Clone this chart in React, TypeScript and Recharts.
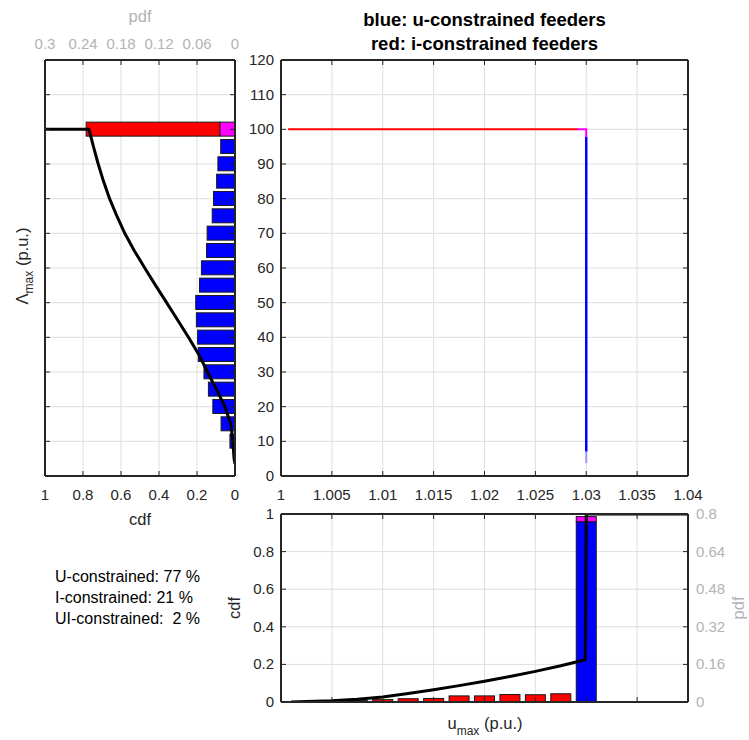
import { ComposedChart, Bar, Line, XAxis, YAxis, CartesianGrid } from "recharts";

const FONT = '"Liberation Sans", Arial, Helvetica, sans-serif';
const AX = "#262626";
const GRID = "#dfdfdf";
const GREY = "#b3b3b3";
const EDGE = "#1a1a1a";
const TICK_LEN = 5;
const FS = 15;

// tick labels
const uTicks = [1, 1.005, 1.01, 1.015, 1.02, 1.025, 1.03, 1.035, 1.04];
const lamTicks = [0, 10, 20, 30, 40, 50, 60, 70, 80, 90, 100, 110, 120];
const cdfTicks = [0, 0.2, 0.4, 0.6, 0.8, 1];
const pdfLamTicks = [0, 0.06, 0.12, 0.18, 0.24, 0.3];
const pdfUTicks = [0, 0.16, 0.32, 0.48, 0.64, 0.8];

// histogram of Lambda_max (left panel), pdf per bin
const lamBins = [100, 95, 90, 85, 80, 75, 70, 65, 60, 55, 50, 45, 40, 35, 30, 25, 20, 15, 10];
const lamBlue = [0, 0.0226, 0.027, 0.029, 0.034, 0.036, 0.044, 0.045, 0.053, 0.056, 0.062, 0.061, 0.059, 0.058, 0.049, 0.042, 0.035, 0.022, 0.008];
const lamMagenta = [0.024, 0, 0, 0, 0, 0, 0, 0, 0, 0, 0, 0, 0, 0, 0, 0, 0, 0, 0];
const lamRed = [0.211, 0, 0, 0, 0, 0, 0, 0, 0, 0, 0, 0, 0, 0, 0, 0, 0, 0, 0];

// cdf of Lambda_max
const cdfLamX = [3.5, 5, 10, 15, 20, 25, 30, 35, 40, 45, 50, 55, 60, 65, 70, 75, 80, 85, 90, 95, 99.5, 100, 100];
const cdfLamY = [0, 0.005, 0.011, 0.022, 0.053, 0.098, 0.145, 0.19, 0.245, 0.302, 0.36, 0.418, 0.475, 0.53, 0.58, 0.622, 0.66, 0.692, 0.72, 0.745, 0.766, 0.77, 1];

// histogram of u_max (bottom panel)
const uBins = [1.0075, 1.01, 1.0125, 1.015, 1.0175, 1.02, 1.0225, 1.025, 1.0275, 1.03];
const uBlue = [0, 0, 0, 0, 0, 0, 0, 0, 0, 0.767];
const uMagenta = [0, 0, 0, 0, 0, 0, 0, 0, 0, 0.022];
const uRed = [0.006, 0.01, 0.014, 0.015, 0.026, 0.026, 0.032, 0.031, 0.035, 0];

// cdf of u_max
const cdfUX = [1.001, 1.0025, 1.005, 1.0075, 1.01, 1.0125, 1.015, 1.0175, 1.02, 1.0225, 1.025, 1.0275, 1.0299, 1.03, 1.04];
const cdfUY = [0, 0.002, 0.007, 0.015, 0.027, 0.045, 0.065, 0.087, 0.11, 0.136, 0.163, 0.193, 0.225, 1, 1];

// scatter u_max vs Lambda_max
const redU = [1.0007, 1.0292];
const redLam = [100, 100];
const magU = [1.0291, 1.03, 1.03];
const magLam = [100, 100, 97.8];
const blueU = [1.03, 1.03];
const blueLam = [97.8, 7.1];
const blueTailU = [1.03, 1.03];
const blueTailLam = [7.1, 3.7];

const lamHist = lamBins.map((lam, i) => ({ lam, blue: lamBlue[i], magenta: lamMagenta[i], red: lamRed[i] }));
const cdfLam = cdfLamX.map((lam, i) => ({ lam, cdf: cdfLamY[i] }));
const uHist = uBins.map((u, i) => ({ u, blue: uBlue[i], magenta: uMagenta[i], red: uRed[i] }));
const cdfU = cdfUX.map((u, i) => ({ u, cdf: cdfUY[i] }));
const pts = (us: number[], ls: number[]) => us.map((u, i) => ({ u, lam: ls[i] }));

type Side = "bottom" | "top" | "left" | "right";

function makeTick(side: Side, label: boolean, color: string = AX) {
  return (p: any) => {
    const x = Number(p.x);
    const y = Number(p.y);
    const txt = label ? String(p.payload?.value) : "";
    const t = { fill: color, fontSize: FS, fontFamily: FONT };
    if (side === "bottom")
      return (
        <g>
          <line x1={x} x2={x} y1={y} y2={y - TICK_LEN} stroke={AX} />
          {label && <text x={x} y={y + 24} textAnchor="middle" {...t}>{txt}</text>}
        </g>
      );
    if (side === "top")
      return (
        <g>
          <line x1={x} x2={x} y1={y} y2={y + TICK_LEN} stroke={AX} />
          {label && <text x={x} y={y - 11} textAnchor="middle" {...t}>{txt}</text>}
        </g>
      );
    if (side === "left")
      return (
        <g>
          <line x1={x} x2={x + TICK_LEN} y1={y} y2={y} stroke={AX} />
          {label && <text x={x - 7} y={y + 5} textAnchor="end" {...t}>{txt}</text>}
        </g>
      );
    return (
      <g>
        <line x1={x} x2={x - TICK_LEN} y1={y} y2={y} stroke={AX} />
        {label && <text x={x + 8} y={y + 5} textAnchor="start" {...t}>{txt}</text>}
      </g>
    );
  };
}

// bars keep the library's position along both axes, only the thickness is fixed
function hBar(thick: number) {
  return (p: any) => {
    const { x, y, width, height, fill } = p;
    if (!width) return <g />;
    const cy = y + height / 2;
    return <rect x={Math.min(x, x + width)} y={cy - thick / 2} width={Math.abs(width)} height={thick} fill={fill} stroke={EDGE} strokeWidth={1} />;
  };
}

function vBar(thick: number) {
  return (p: any) => {
    const { x, y, width, height, fill } = p;
    if (!height) return <g />;
    const cx = x + width / 2;
    return <rect x={cx - thick / 2} y={Math.min(y, y + height)} width={thick} height={Math.abs(height)} fill={fill} stroke={EDGE} strokeWidth={1} />;
  };
}

const frame = { stroke: AX, strokeWidth: 2 };
const axisBase = { tickSize: 0, tickMargin: 0, tickLine: false, interval: 0 as const, axisLine: frame, allowDataOverflow: true };
const M0 = { top: 0, right: 0, bottom: 0, left: 0 };

function LeftPanel() {
  return (
    <ComposedChart layout="vertical" width={210} height={486} data={lamHist} margin={M0}>
      <CartesianGrid stroke={GRID} />
      <XAxis type="number" domain={[0, 1]} reversed ticks={cdfTicks} height={30} {...axisBase} tick={makeTick("bottom", true)} />
      <XAxis xAxisId="pdf" orientation="top" type="number" domain={[0, 0.3]} reversed ticks={pdfLamTicks} height={40} {...axisBase} tick={makeTick("top", true, GREY)} />
      <YAxis type="number" dataKey="lam" domain={[0, 120]} reversed ticks={lamTicks} width={10} {...axisBase} tick={makeTick("left", false)} />
      <YAxis yAxisId="r" orientation="right" type="number" dataKey="lam" domain={[0, 120]} reversed ticks={lamTicks} width={10} {...axisBase} tick={makeTick("right", false)} />
      <Bar xAxisId="pdf" dataKey="blue" stackId="s" fill="#0000ff" shape={hBar(14)} isAnimationActive={false} />
      <Bar xAxisId="pdf" dataKey="magenta" stackId="s" fill="#ff00ff" shape={hBar(14)} isAnimationActive={false} />
      <Bar xAxisId="pdf" dataKey="red" stackId="s" fill="#ff0000" shape={hBar(14)} isAnimationActive={false} />
      <Line data={cdfLam} dataKey="cdf" stroke="#000" strokeWidth={3} dot={false} isAnimationActive={false} />
    </ComposedChart>
  );
}

function MainPanel() {
  return (
    <ComposedChart width={482} height={456} margin={M0}>
      <CartesianGrid stroke={GRID} />
      <XAxis type="number" dataKey="u" domain={[1, 1.04]} ticks={uTicks} height={30} {...axisBase} tick={makeTick("bottom", true)} />
      <XAxis xAxisId="t" orientation="top" type="number" dataKey="u" domain={[1, 1.04]} ticks={uTicks} height={10} {...axisBase} tick={makeTick("top", false)} />
      <YAxis type="number" domain={[0, 120]} ticks={lamTicks} width={45} {...axisBase} tick={makeTick("left", true)} />
      <YAxis yAxisId="r" orientation="right" type="number" domain={[0, 120]} ticks={lamTicks} width={30} {...axisBase} tick={makeTick("right", false)} />
      <Line data={pts(redU, redLam)} dataKey="lam" stroke="#ff0000" strokeWidth={2} dot={false} isAnimationActive={false} />
      <Line data={pts(blueTailU, blueTailLam)} dataKey="lam" stroke="#9a9aff" strokeWidth={2} dot={false} isAnimationActive={false} />
      <Line data={pts(blueU, blueLam)} dataKey="lam" stroke="#0000ff" strokeWidth={2.5} dot={false} isAnimationActive={false} />
      <Line data={pts(magU, magLam)} dataKey="lam" stroke="#ff00ff" strokeWidth={2} dot={false} isAnimationActive={false} />
    </ComposedChart>
  );
}

function BottomPanel() {
  return (
    <ComposedChart width={502} height={210} data={uHist} margin={M0}>
      <CartesianGrid stroke={GRID} />
      <XAxis type="number" dataKey="u" domain={[1, 1.04]} ticks={uTicks} height={10} {...axisBase} tick={makeTick("bottom", false)} />
      <XAxis xAxisId="t" orientation="top" type="number" dataKey="u" domain={[1, 1.04]} ticks={uTicks} height={12} {...axisBase} tick={makeTick("top", false)} />
      <YAxis type="number" domain={[0, 1]} ticks={cdfTicks} width={45} {...axisBase} tick={makeTick("left", true)} />
      <YAxis yAxisId="pdf" orientation="right" type="number" domain={[0, 0.8]} ticks={pdfUTicks} width={50} {...axisBase} tick={makeTick("right", true, GREY)} />
      <Bar yAxisId="pdf" dataKey="blue" stackId="s" fill="#0000ff" shape={vBar(20)} isAnimationActive={false} />
      <Bar yAxisId="pdf" dataKey="magenta" stackId="s" fill="#ff00ff" shape={vBar(20)} isAnimationActive={false} />
      <Bar yAxisId="pdf" dataKey="red" stackId="s" fill="#ff0000" shape={vBar(20)} isAnimationActive={false} />
      <Line data={cdfU} dataKey="cdf" stroke="#000" strokeWidth={3} dot={false} isAnimationActive={false} />
    </ComposedChart>
  );
}

export default function App() {
  const lbl = { fontFamily: FONT, fontSize: 16.5, fill: AX };
  const title = { fontFamily: FONT, fontSize: 18.5, fontWeight: "bold" as const, fill: "#000" };
  return (
    <div style={{ position: "absolute", left: 0, top: 0, width: 749, height: 740, background: "#fff", overflow: "hidden" }}>
      <div style={{ position: "absolute", left: 35, top: 20 }}><LeftPanel /></div>
      <div style={{ position: "absolute", left: 236, top: 50 }}><MainPanel /></div>
      <div style={{ position: "absolute", left: 236, top: 502 }}><BottomPanel /></div>
      <svg width={749} height={740} style={{ position: "absolute", left: 0, top: 0, pointerEvents: "none" }}>
        <text x={484.5} y={26} textAnchor="middle" {...title}>blue: u-constrained feeders</text>
        <text x={484.5} y={50} textAnchor="middle" {...title}>red: i-constrained feeders</text>
        <text x={140} y={22} textAnchor="middle" {...lbl} fill={GREY}>pdf</text>
        <text x={140} y={525} textAnchor="middle" {...lbl}>cdf</text>
        <text x={28} y={266} textAnchor="middle" transform="rotate(-90 28 266)" {...lbl}>
          Λ<tspan dy={5} fontSize={12}>max</tspan><tspan dy={-5}> (p.u.)</tspan>
        </text>
        <text x={485} y={729} textAnchor="middle" {...lbl}>
          u<tspan dy={6} fontSize={12}>max</tspan><tspan dy={-6}> (p.u.)</tspan>
        </text>
        <text x={240} y={608} textAnchor="middle" transform="rotate(-90 240 608)" {...lbl}>cdf</text>
        <text x={744} y={608} textAnchor="middle" transform="rotate(-90 744 608)" {...lbl} fill={GREY}>pdf</text>
        <g fontFamily={FONT} fontSize={16} fill="#000">
          <text x={55} y={582}>U-constrained: 77 %</text>
          <text x={55} y={603}>I-constrained: 21 %</text>
          <text x={55} y={624}>{"UI-constrained:\u00a0 2 %"}</text>
        </g>
      </svg>
    </div>
  );
}
